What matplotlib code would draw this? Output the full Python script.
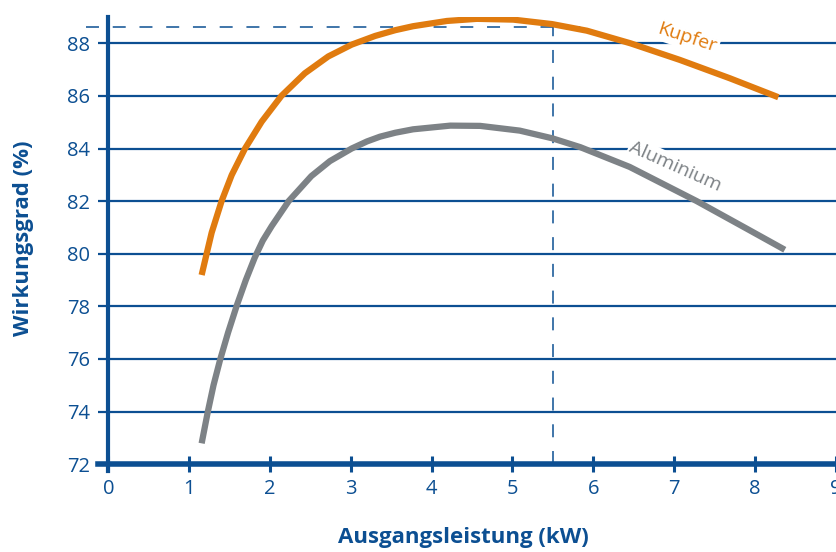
import numpy as np
import matplotlib
matplotlib.use('Agg')
import matplotlib.pyplot as plt

plt.rcParams['font.family'] = ['Open Sans', 'DejaVu Sans']

BLUE = '#0c4f92'
ORANGE = '#e07b0f'
GRAY = '#7d8286'

# values (kW, %)
kupfer_kw = [1.153, 1.215, 1.277, 1.40, 1.525, 1.69, 1.896, 2.14, 2.43, 2.72,
             3.01, 3.30, 3.55, 3.77, 4.19, 4.56, 5.01, 5.49, 5.92, 6.46,
             7.07, 7.69, 8.29]
kupfer_eff = [79.19, 80.0, 80.8, 82.0, 82.99, 84.0, 85.02, 86.0, 86.86, 87.5,
              87.95, 88.28, 88.5, 88.65, 88.85, 88.93, 88.9, 88.73, 88.48, 88.0,
              87.37, 86.67, 85.95]

alu_kw = [1.153, 1.23, 1.30, 1.38, 1.48, 1.59, 1.70, 1.81, 1.91, 2.02, 2.23,
          2.51, 2.74, 3.01, 3.20, 3.36, 3.55, 3.77, 4.23, 4.60, 5.09, 5.49,
          5.84, 6.45, 7.28, 7.90, 8.37]
alu_eff = [72.79, 74.0, 75.0, 75.95, 77.0, 78.05, 79.0, 79.85, 80.5, 81.05, 82.0,
           82.95, 83.52, 84.0, 84.27, 84.45, 84.6, 84.73, 84.87, 84.86, 84.68,
           84.39, 84.05, 83.3, 82.0, 80.95, 80.15]

x_ticks = [0, 1, 2, 3, 4, 5, 6, 7, 8, 9]
y_ticks = [72, 74, 76, 78, 80, 82, 84, 86, 88]

rated_kw = 5.5        # vertical marker
rated_eff = 88.62     # horizontal marker

fig = plt.figure(figsize=(8.37, 5.52), dpi=100)
ax = fig.add_axes([0.1296, 0.1592, 0.8704, 0.81])
ax.set_xlim(0, 9.016)
ax.set_ylim(72, 89.0)

# gridlines
for y in y_ticks[1:]:
    ax.axhline(y, color=BLUE, lw=1.6, zorder=1)

# reference dashed lines
ax.plot([-0.28, 5.96], [rated_eff, rated_eff], color=BLUE, lw=1.1,
        dashes=(8.5, 9), clip_on=False, zorder=1)
ax.plot([rated_kw, rated_kw], [72, 89.0], color=BLUE, lw=1.1,
        dashes=(8.5, 9), clip_on=False, zorder=1)

# curves
ax.plot(kupfer_kw, kupfer_eff, color=ORANGE, lw=4.5, solid_capstyle='butt',
        solid_joinstyle='round', zorder=4)
ax.plot(alu_kw, alu_eff, color=GRAY, lw=4.5, solid_capstyle='butt',
        solid_joinstyle='round', zorder=4)

ax.text(7.16, 88.22, 'Kupfer', color=ORANGE, fontsize=14, rotation=-18,
        ha='center', va='center', zorder=3,
        bbox=dict(facecolor='white', edgecolor='none', pad=2.0))
ax.text(7.02, 83.33, 'Aluminium', color=GRAY, fontsize=14, rotation=-24,
        ha='center', va='center', zorder=3,
        bbox=dict(facecolor='white', edgecolor='none', pad=1.0))

# axes styling
for s in ['top', 'right']:
    ax.spines[s].set_visible(False)
ax.spines['left'].set_color(BLUE)
ax.spines['left'].set_linewidth(3)
ax.spines['left'].set_bounds(71.75, 89.0)
ax.spines['bottom'].set_color(BLUE)
ax.spines['bottom'].set_linewidth(4)
ax.spines['bottom'].set_bounds(-0.13, 9.016)

ax.set_xticks(x_ticks)
ax.set_yticks(y_ticks)
ax.tick_params(axis='x', direction='inout', length=12, width=2.2, color=BLUE,
               labelcolor=BLUE, labelsize=14.5, pad=5)
ax.tick_params(axis='y', direction='out', length=7.5, width=1.6, color=BLUE,
               labelcolor=BLUE, labelsize=14.5, pad=6)

fig.text(463 / 837, 1 - 537 / 552, 'Ausgangsleistung (kW)', color=BLUE,
         fontsize=16, fontweight='bold', ha='center', va='center')
fig.text(24 / 837, 1 - 238 / 552, 'Wirkungsgrad (%)', color=BLUE,
         fontsize=16, fontweight='bold', ha='center', va='center', rotation=90)

fig.savefig('out.png', dpi=100)
